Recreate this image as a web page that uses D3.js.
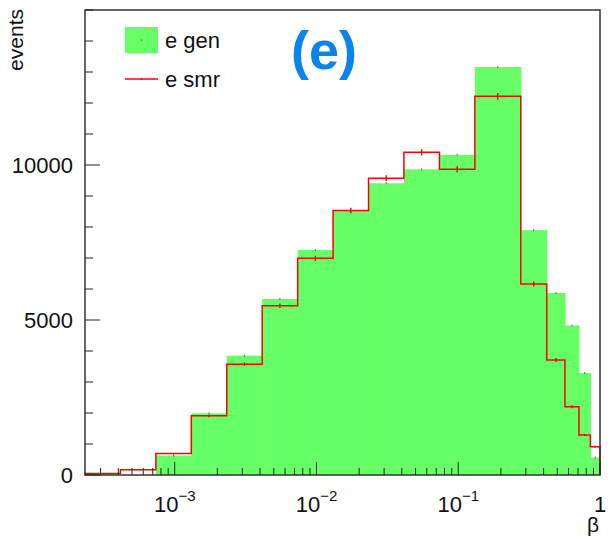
<!DOCTYPE html>
<html>
<head>
<meta charset="utf-8">
<script src="https://cdn.jsdelivr.net/npm/d3@7"></script>
<style>
    body { margin: 0; background: #ffffff; }
    text { font-family: "Liberation Sans", Arial, Helvetica, sans-serif; }
</style>
</head>
<body>
<div id="chart"></div>
<script>
// bin edges in beta (log bins up to ~0.13, then linear bins to 1)
const binEdges = [2.33e-4, 4.14e-4, 7.37e-4, 1.31e-3, 2.33e-3, 4.14e-3, 7.37e-3, 1.31e-2,
    2.33e-2, 4.14e-2, 7.37e-2, 0.131, 0.276, 0.421, 0.566, 0.710, 0.855, 1.0];
const genCounts = [0, 0, 630, 1990, 3850, 5680, 7260, 8530, 9410, 9860, 10330, 13160,
    7900, 5870, 4820, 3290, 560];
const smrCounts = [50, 170, 690, 1910, 3570, 5460, 6990, 8530, 9570, 10410, 9860, 12215,
    6160, 3710, 2200, 1290, 915];
const xMajorTicks = [1e-3, 1e-2, 1e-1, 1];
const xMajorExp = ['\u22123', '\u22122', '\u22121', ''];
const yMajorTicks = [0, 5000, 10000];
const legendLabels = ['e gen', 'e smr'];

const colorGen = '#66ff66', colorSmr = '#ff0000';
const width = 610, height = 539;
const mLeft = 85, mRight = 600, mTop = 10, mBottom = 475;

const svg = d3.select('#chart')
    .append('svg')
    .attr('width', width)
    .attr('height', height);

const xScale = d3.scaleLog()
    .domain([binEdges[0], binEdges[binEdges.length - 1]])
    .range([mLeft, mRight]);

const yScale = d3.scaleLinear()
    .domain([0, 15000])
    .range([mBottom, mTop]);

const bins = genCounts.map((g, i) => ({
    x0: binEdges[i], x1: binEdges[i + 1], gen: g, smr: smrCounts[i]
}));
const xMid = d => (xScale(d.x0) + xScale(d.x1)) / 2;

/* gen histogram, filled */
svg.append('g')
    .selectAll('rect')
    .data(bins)
    .join('rect')
    .attr('x', d => xScale(d.x0))
    .attr('width', d => xScale(d.x1) - xScale(d.x0) + 0.6)
    .attr('y', d => yScale(d.gen))
    .attr('height', d => yScale(0) - yScale(d.gen))
    .attr('fill', colorGen);

/* gen error markers (tiny) */
svg.append('g')
    .selectAll('line')
    .data(bins.filter(d => d.gen > 0))
    .join('line')
    .attr('x1', xMid)
    .attr('x2', xMid)
    .attr('y1', d => yScale(d.gen) - 1)
    .attr('y2', d => yScale(d.gen) + 1)
    .attr('stroke', '#666')
    .attr('stroke-width', 1);

/* smr histogram outline */
const stepPts = [[xScale(bins[0].x0), yScale(0)]];
bins.forEach(d => {
    stepPts.push([xScale(d.x0), yScale(d.smr)]);
    stepPts.push([xScale(d.x1), yScale(d.smr)]);
});
stepPts.push([xScale(bins[bins.length - 1].x1), yScale(0)]);

svg.append('path')
    .datum(stepPts)
    .attr('fill', 'none')
    .attr('stroke', colorSmr)
    .attr('stroke-width', 1.5)
    .attr('d', d3.line());

/* smr error bars */
svg.append('g')
    .selectAll('line')
    .data(bins)
    .join('line')
    .attr('x1', xMid)
    .attr('x2', xMid)
    .attr('y1', d => yScale(d.smr + Math.sqrt(d.smr)))
    .attr('y2', d => yScale(d.smr - Math.sqrt(d.smr)))
    .attr('stroke', '#dd0000')
    .attr('stroke-width', 1.3);

/* frame */
svg.append('rect')
    .attr('x', mLeft)
    .attr('y', mTop)
    .attr('width', mRight - mLeft)
    .attr('height', mBottom - mTop)
    .attr('fill', 'none')
    .attr('stroke', '#333')
    .attr('stroke-width', 1.5);

/* x ticks (inside, upward) */
const xMinor = xScale.ticks().filter(t => xMajorTicks.indexOf(t) < 0);
svg.append('g')
    .selectAll('line')
    .data(xMinor)
    .join('line')
    .attr('x1', d => xScale(d)).attr('x2', d => xScale(d))
    .attr('y1', mBottom).attr('y2', mBottom - 7)
    .attr('stroke', '#222').attr('stroke-width', 1);

svg.append('g')
    .selectAll('line')
    .data(xMajorTicks)
    .join('line')
    .attr('x1', d => xScale(d)).attr('x2', d => xScale(d))
    .attr('y1', mBottom).attr('y2', mBottom - 13)
    .attr('stroke', '#222').attr('stroke-width', 1);

/* x tick labels */
const xLab = svg.append('g')
    .selectAll('text')
    .data(xMajorTicks)
    .join('text')
    .attr('x', d => xScale(d))
    .attr('y', 512)
    .attr('text-anchor', 'middle')
    .attr('font-size', 22)
    .attr('fill', '#111');
xLab.append('tspan').text((d, i) => xMajorExp[i] ? '10' : '1');
xLab.append('tspan')
    .attr('dy', -11)
    .attr('font-size', 15)
    .text((d, i) => xMajorExp[i]);

/* y ticks (inside, rightward) */
const yMinor = d3.range(0, 15001, 1000).filter(t => yMajorTicks.indexOf(t) < 0);
svg.append('g')
    .selectAll('line')
    .data(yMinor)
    .join('line')
    .attr('x1', mLeft).attr('x2', mLeft + 8)
    .attr('y1', d => yScale(d)).attr('y2', d => yScale(d))
    .attr('stroke', '#222').attr('stroke-width', 1);

svg.append('g')
    .selectAll('line')
    .data(yMajorTicks)
    .join('line')
    .attr('x1', mLeft).attr('x2', mLeft + 15)
    .attr('y1', d => yScale(d)).attr('y2', d => yScale(d))
    .attr('stroke', '#222').attr('stroke-width', 1);

svg.append('g')
    .selectAll('text')
    .data(yMajorTicks)
    .join('text')
    .attr('x', 73)
    .attr('y', d => yScale(d) + 8)
    .attr('text-anchor', 'end')
    .attr('font-size', 22)
    .attr('fill', '#111')
    .text(d => d);

/* axis titles */
svg.append('text')
    .text('\u03b2')
    .attr('x', 599)
    .attr('y', 532)
    .attr('text-anchor', 'end')
    .attr('font-size', 21)
    .attr('fill', '#111');

svg.append('text')
    .text('events')
    .attr('transform', 'translate(23,9) rotate(-90)')
    .attr('text-anchor', 'end')
    .attr('font-size', 21)
    .attr('fill', '#111');

/* legend */
svg.append('rect')
    .attr('x', 125).attr('y', 27)
    .attr('width', 33).attr('height', 26)
    .attr('fill', colorGen);
svg.append('circle')
    .attr('cx', 141.5).attr('cy', 40).attr('r', 0.6)
    .attr('fill', '#333');
svg.append('line')
    .attr('x1', 125).attr('x2', 158)
    .attr('y1', 79).attr('y2', 79)
    .attr('stroke', colorSmr).attr('stroke-width', 1.5);
svg.append('circle')
    .attr('cx', 141.5).attr('cy', 79).attr('r', 0.8)
    .attr('fill', '#333');

svg.append('g')
    .selectAll('text')
    .data(legendLabels)
    .join('text')
    .attr('x', 165)
    .attr('y', (d, i) => 48 + i * 39)
    .attr('font-size', 22)
    .attr('fill', '#111')
    .text(d => d);

/* panel tag */
svg.append('text')
    .text('(e)')
    .attr('x', 291)
    .attr('y', 69)
    .attr('font-size', 54)
    .attr('font-weight', 'bold')
    .attr('fill', '#0a84e8');
</script>
</body>
</html>
